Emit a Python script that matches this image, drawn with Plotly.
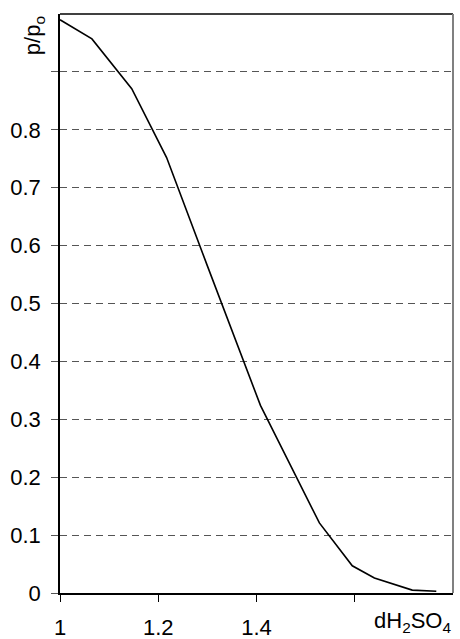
import plotly.graph_objects as go

# Relative vapour pressure over sulfuric acid solutions vs. solution density
density = [1.0, 1.065, 1.146, 1.217, 1.30, 1.408, 1.528, 1.595, 1.64, 1.717, 1.766]
p_ratio = [0.990, 0.957, 0.871, 0.752, 0.565, 0.324, 0.121, 0.047, 0.026, 0.005, 0.003]

y_ticks = [0, 0.1, 0.2, 0.3, 0.4, 0.5, 0.6, 0.7, 0.8, 0.9]
y_labels = ["0", "0.1", "0.2", "0.3", "0.4", "0.5", "0.6", "0.7", "0.8", ""]
x_ticks = [1.0, 1.2, 1.4, 1.6]
x_labels = ["1", "1.2", "1.4", ""]

FONT = "Liberation Sans, Arial, sans-serif"

fig = go.Figure()
fig.add_trace(go.Scatter(
    x=density, y=p_ratio, mode="lines",
    line=dict(color="black", width=1.6),
    showlegend=False, hoverinfo="skip",
))

fig.update_layout(
    width=460, height=639,
    margin=dict(l=60, r=7, t=14, b=46, autoexpand=False),
    paper_bgcolor="white", plot_bgcolor="white",
    font=dict(family=FONT, size=22, color="black"),
    showlegend=False,
    xaxis=dict(
        range=[1.0, 1.8], tickvals=x_ticks, ticktext=x_labels,
        showgrid=False, zeroline=False, automargin=False,
        showline=True, linecolor="black", linewidth=1.5,
        ticks="outside", ticklen=7, tickcolor="black", tickwidth=1,
        ticklabelstandoff=7,
    ),
    yaxis=dict(
        range=[0, 1.0], tickvals=y_ticks, ticktext=y_labels,
        showgrid=True, gridcolor="#555555", gridwidth=1, griddash="7px,5px",
        zeroline=False, automargin=False,
        showline=True, linecolor="black", linewidth=1.5,
        ticks="outside", ticklen=7, tickcolor="#555555", tickwidth=1,
        ticklabelstandoff=6,
    ),
    shapes=[
        dict(type="line", xref="paper", yref="paper", x0=0, x1=1, y0=1, y1=1,
             line=dict(color="black", width=1.5)),
        dict(type="line", xref="paper", yref="paper", x0=1, x1=1, y0=0, y1=1,
             line=dict(color="#808080", width=2)),
    ],
    annotations=[
        dict(text="p/p<sub>o</sub>", xref="paper", yref="paper",
             x=-0.067, y=1.0, xanchor="center", yanchor="top",
             textangle=-90, showarrow=False, font=dict(size=22)),
        dict(text="dH<sub>2</sub>SO<sub>4</sub>", xref="paper", yref="paper",
             x=1.0, y=-0.077, xanchor="right", yanchor="bottom",
             showarrow=False, font=dict(size=22)),
    ],
)

fig.write_html("out.html")
